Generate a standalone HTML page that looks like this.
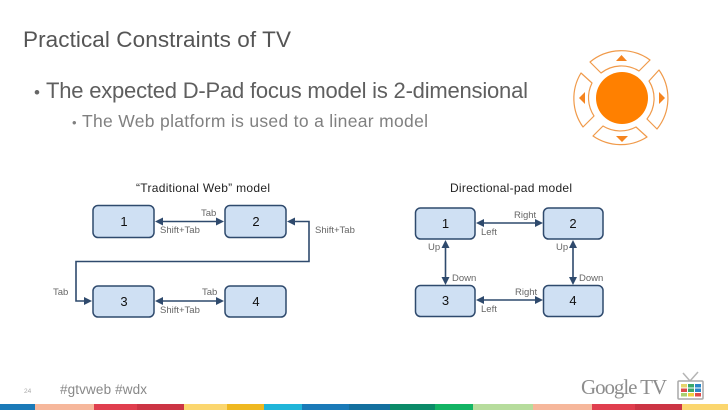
<!DOCTYPE html>
<html><head><meta charset="utf-8"><style>
html,body{margin:0;padding:0;background:#fff}
svg{display:block;filter:blur(.35px)}
text{font-family:"Liberation Sans",sans-serif}
.n{font-size:13px;fill:#111;text-anchor:middle}
.l{font-size:9.500px;fill:#666}
.b{fill:#cfe0f3;stroke:#2f4a6d;stroke-width:1.500}
.c{fill:none;stroke:#2f4a6d;stroke-width:1.600}
.a{fill:#2f4a6d}
.p{fill:#fff;stroke:#f09a4a;stroke-width:1.200;stroke-linejoin:round}
.t{fill:#f5841f}
</style></head><body>
<svg width="728" height="410" viewBox="0 0 728 410" xmlns="http://www.w3.org/2000/svg">
<rect width="728" height="410" fill="#fff"/>
<text x="23" y="47" font-size="22.500" fill="#555" textLength="268">Practical Constraints of TV</text>
<text x="34" y="98" font-size="17" fill="#666">•</text>
<text x="46" y="98" font-size="22" fill="#5f5f5f" textLength="482">The expected D-Pad focus model is 2-dimensional</text>
<text x="72" y="127" font-size="13" fill="#808080">•</text>
<text x="82" y="127" font-size="17.500" fill="#808080" textLength="346">The Web platform is used to a linear model</text>

<!-- D-pad -->
<circle cx="622" cy="98" r="26" fill="#ff8000"/>
<path class="p" d="M590,62 A49,49 0 0 1 650,60 L639,71 A33,33 0 0 0 601,73 Z"/>
<path class="p" d="M659,70 A49,49 0 0 1 657,129 L647,119 A33,33 0 0 0 649,81 Z"/>
<path class="p" d="M647,137 A49,49 0 0 1 593,136 L603,126 A33,33 0 0 0 636,127 Z"/>
<path class="p" d="M583,127 A49,49 0 0 1 581,73 L592,83 A33,33 0 0 0 594,116 Z"/>
<path class="t" d="M616,61 L627,61 L621.500,55 Z"/>
<path class="t" d="M659,92 L659,104 L665,98 Z"/>
<path class="t" d="M616,136 L628,136 L622,142 Z"/>
<path class="t" d="M585,92 L585,104 L579,98 Z"/>

<!-- Traditional -->
<text x="136" y="192" font-size="12" fill="#222" textLength="134">“Traditional Web” model</text>
<rect class="b" x="93" y="205.500" width="61" height="32" rx="5"/>
<rect class="b" x="225" y="205.500" width="61" height="32" rx="5"/>
<rect class="b" x="93" y="286" width="61" height="31" rx="5"/>
<rect class="b" x="225" y="286" width="61" height="31" rx="5"/>
<text class="n" x="124" y="226">1</text>
<text class="n" x="256" y="226">2</text>
<text class="n" x="124" y="306">3</text>
<text class="n" x="256" y="306">4</text>
<path class="c" d="M160,221.500 H220"/>
<path class="a" d="M155,221.500 L163,217.500 V225.500 Z M224,221.500 L216,217.500 V225.500 Z"/>
<path class="c" d="M160,301 H220"/>
<path class="a" d="M155,301 L163,297 V305 Z M224,301 L216,297 V305 Z"/>
<path class="c" d="M293,221.500 H309 V261.500 H76 V301 H86"/>
<path class="a" d="M287,221.500 L295,217.500 V225.500 Z M92,301 L84,297 V305 Z"/>
<text class="l" x="201" y="216">Tab</text>
<text class="l" x="160" y="233">Shift+Tab</text>
<text class="l" x="315" y="233">Shift+Tab</text>
<text class="l" x="53" y="295">Tab</text>
<text class="l" x="202" y="295">Tab</text>
<text class="l" x="160" y="313">Shift+Tab</text>

<!-- D-pad model -->
<text x="450" y="192" font-size="12" fill="#222" textLength="122">Directional-pad model</text>
<rect class="b" x="415.500" y="208" width="59.500" height="31" rx="5"/>
<rect class="b" x="543.500" y="208" width="59.500" height="31" rx="5"/>
<rect class="b" x="415.500" y="285.500" width="59.500" height="31" rx="5"/>
<rect class="b" x="543.500" y="285.500" width="59.500" height="31" rx="5"/>
<text class="n" x="445.500" y="228">1</text>
<text class="n" x="573" y="228">2</text>
<text class="n" x="445.500" y="305">3</text>
<text class="n" x="573" y="305">4</text>
<path class="c" d="M481,223 H538 M481,300 H538 M445.500,245 V280 M573,245 V280"/>
<path class="a" d="M476,223 L484,219 V227 Z M543,223 L535,219 V227 Z M476,300 L484,296 V304 Z M543,300 L535,296 V304 Z"/>
<path class="a" d="M445.500,240 L441.500,248 H449.500 Z M445.500,285 L441.500,277 H449.500 Z M573,240 L569,248 H577 Z M573,285 L569,277 H577 Z"/>
<text class="l" x="514" y="218">Right</text>
<text class="l" x="481" y="235">Left</text>
<text class="l" x="428" y="250">Up</text>
<text class="l" x="452" y="281">Down</text>
<text class="l" x="556" y="250">Up</text>
<text class="l" x="579" y="281">Down</text>
<text class="l" x="515" y="295">Right</text>
<text class="l" x="481" y="312">Left</text>

<!-- Footer -->
<text x="24" y="393" font-size="6.500" fill="#aaa">24</text>
<text x="60" y="394" font-size="13.500" fill="#888" textLength="87">#gtvweb #wdx</text>
<text x="581" y="394" font-size="21" fill="#8d8d8d" textLength="86" style="font-family:'Liberation Serif',serif">Google TV</text>
<g>
<path d="M683,373 L690,381 L698,372" fill="none" stroke="#b5b5b5" stroke-width="1.500"/>
<rect x="678" y="381" width="25" height="18" rx="1" fill="#fff" stroke="#a9a9a9" stroke-width="1.500"/>
<rect x="681" y="384" width="6" height="3.500" fill="#e5d46a"/><rect x="688" y="384" width="6" height="3.500" fill="#3aa86a"/><rect x="695" y="384" width="6" height="3.500" fill="#2a86c8"/>
<rect x="681" y="388.500" width="6" height="3.500" fill="#dc4a4a"/><rect x="688" y="388.500" width="6" height="3.500" fill="#3aa86a"/><rect x="695" y="388.500" width="6" height="3.500" fill="#2a86c8"/>
<rect x="681" y="393" width="6" height="3.500" fill="#a8d070"/><rect x="688" y="393" width="6" height="3.500" fill="#f0d040"/><rect x="695" y="393" width="6" height="3.500" fill="#dc4a4a"/>
</g>

<!-- Stripe -->
<g>
<rect x="0" y="404" width="35" height="6" fill="#1a7ab8"/>
<rect x="35" y="404" width="59" height="6" fill="#f6b79b"/>
<rect x="94" y="404" width="43" height="6" fill="#e03e4e"/>
<rect x="137" y="404" width="47" height="6" fill="#cc3444"/>
<rect x="184" y="404" width="43" height="6" fill="#fbd66e"/>
<rect x="227" y="404" width="37" height="6" fill="#efb820"/>
<rect x="264" y="404" width="38" height="6" fill="#20b5d9"/>
<rect x="302" y="404" width="47" height="6" fill="#1a7ab8"/>
<rect x="349" y="404" width="41" height="6" fill="#14709f"/>
<rect x="390" y="404" width="45" height="6" fill="#0b8a68"/>
<rect x="435" y="404" width="38" height="6" fill="#12b464"/>
<rect x="473" y="404" width="60" height="6" fill="#b6dc9c"/>
<rect x="533" y="404" width="59" height="6" fill="#f6b79b"/>
<rect x="592" y="404" width="43" height="6" fill="#e03e4e"/>
<rect x="635" y="404" width="47" height="6" fill="#cc3444"/>
<rect x="682" y="404" width="46" height="6" fill="#fbd66e"/>
</g>
</svg>
</body></html>
